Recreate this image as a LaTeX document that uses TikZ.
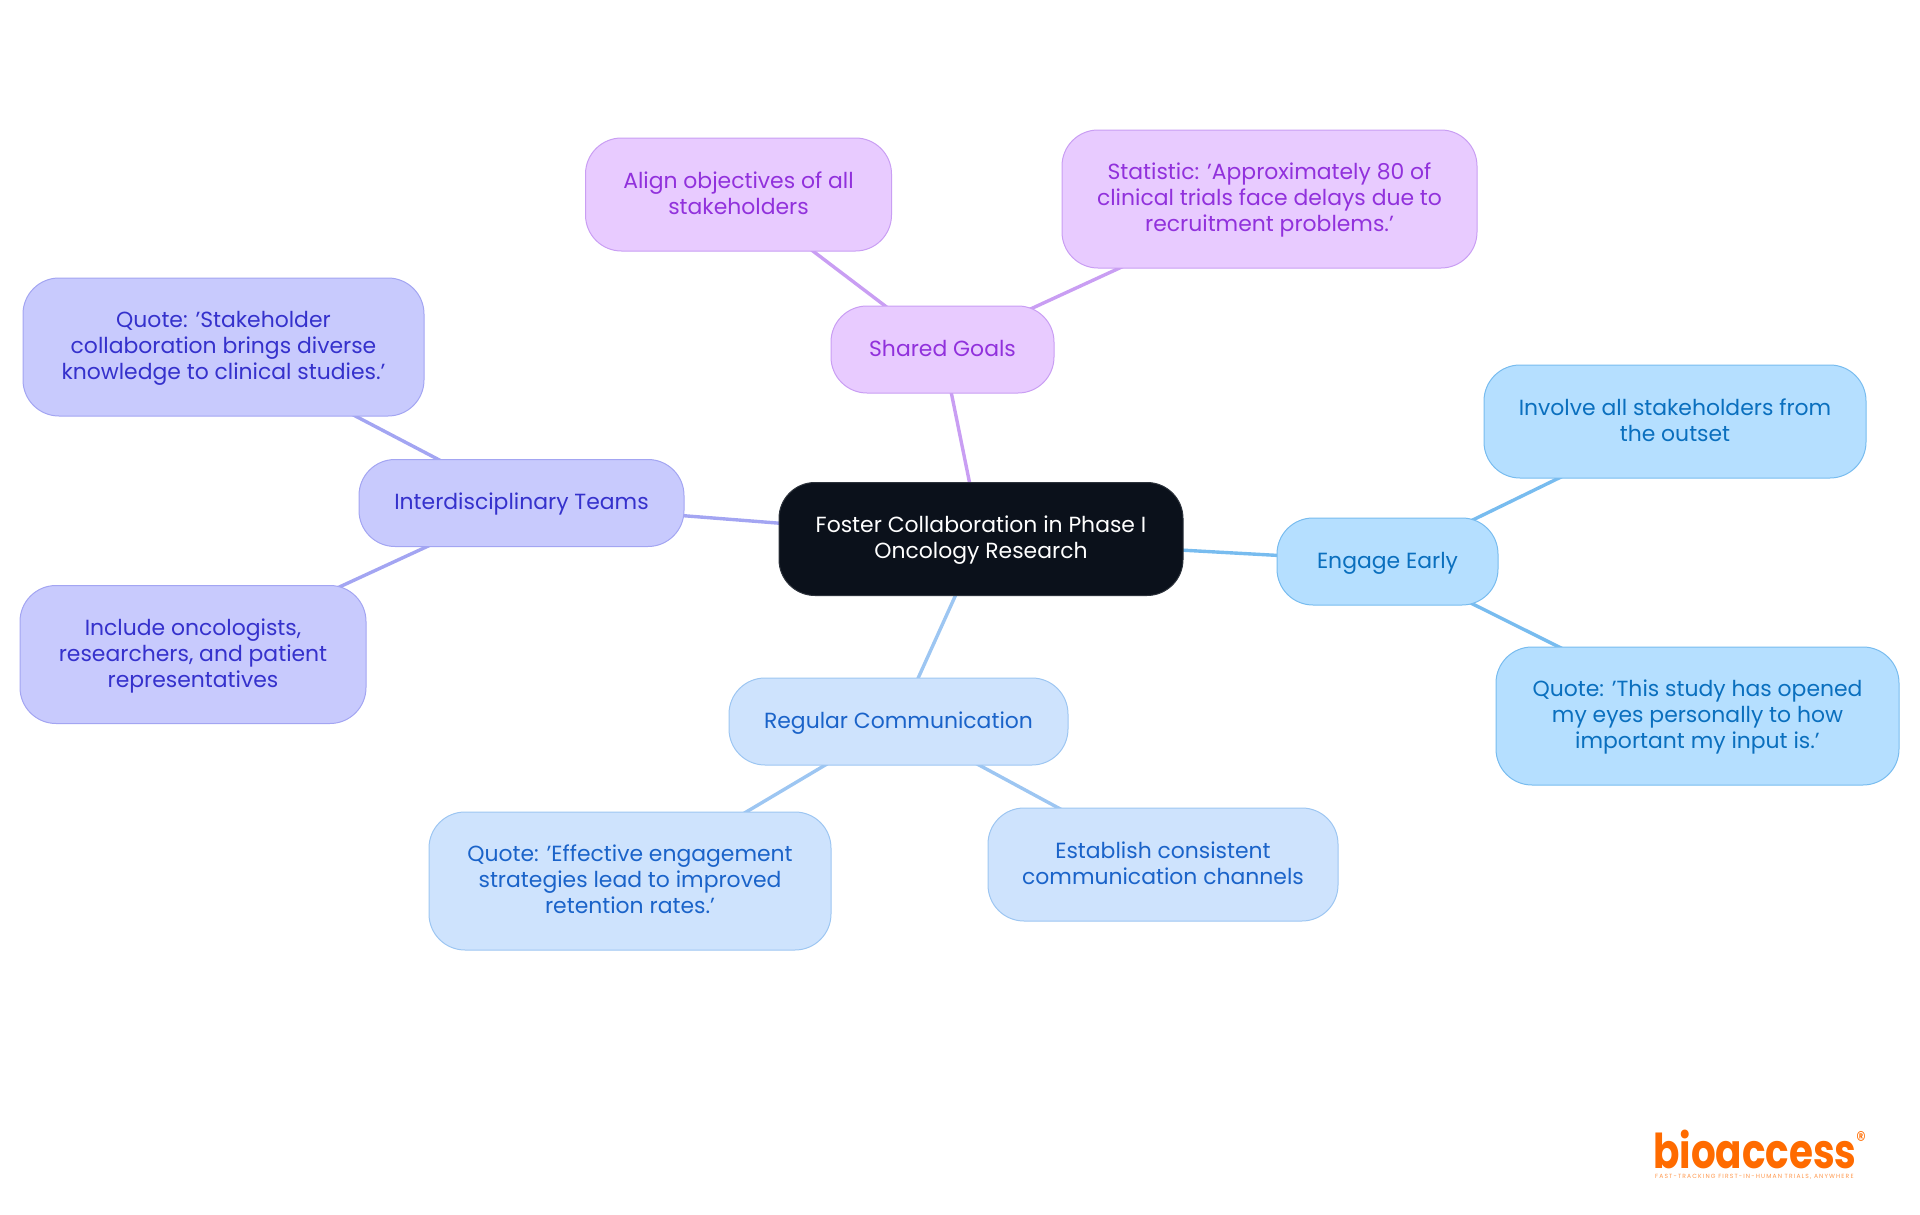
\documentclass[tikz,border=0pt]{standalone}
\usepackage{fontspec}
\setmainfont[Ligatures=ResetAll]{Poppins}
\newfontfamily\logofont[FakeStretch=0.81]{Poppins}
\newfontfamily\tagfont[LetterSpace=19]{Poppins}
\usetikzlibrary{positioning,backgrounds}
\definecolor{rootfill}{HTML}{0B111B}
\definecolor{rootline}{HTML}{2C323B}
\definecolor{goalfill}{HTML}{E8CBFF}
\definecolor{goalline}{HTML}{C99EF3}
\definecolor{goaltext}{HTML}{9131DC}
\definecolor{teamfill}{HTML}{C8CAFD}
\definecolor{teamline}{HTML}{A3A5F2}
\definecolor{teamtext}{HTML}{3531CC}
\definecolor{earlyfill}{HTML}{B5DFFF}
\definecolor{earlyline}{HTML}{78BCEF}
\definecolor{earlytext}{HTML}{0A6FBE}
\definecolor{commfill}{HTML}{CEE3FD}
\definecolor{commline}{HTML}{9DC6F2}
\definecolor{commtext}{HTML}{1A63C9}
\definecolor{logoorange}{HTML}{FF6B00}
\tikzset{
  mapnode/.style={draw,line width=1pt,rounded corners=36pt,align=center,inner sep=0pt,text depth=3pt,
    font=\fontsize{21.9}{26}\selectfont},
  rootnode/.style={mapnode,fill=rootfill,draw=rootline,text=white},
  goalnode/.style={mapnode,fill=goalfill,draw=goalline,text=goaltext},
  teamnode/.style={mapnode,fill=teamfill,draw=teamline,text=teamtext},
  earlynode/.style={mapnode,fill=earlyfill,draw=earlyline,text=earlytext},
  commnode/.style={mapnode,fill=commfill,draw=commline,text=commtext},
  small/.style={minimum height=87pt},
  medium/.style={minimum height=113pt},
  large/.style={minimum height=138pt},
  link/.style={line width=3.4pt}
}
\begin{document}
\begin{tikzpicture}[on grid]
      \useasboundingbox (0,0) rectangle (1920pt,-1215pt);
      \node[rootnode,medium,minimum width=404pt]  (root) at (981pt,-539pt) {Foster Collaboration in Phase I\\Oncology Research};

      \node[goalnode,small,minimum width=223pt]   (goals)   [above left=189.5pt and 38.5pt of root]  {Shared Goals};
      \node[goalnode,medium,minimum width=306pt]  (align)   [above left=155pt and 204pt of goals]    {Align objectives of all\\stakeholders};
      \node[goalnode,large,minimum width=415pt]   (stat)    [above right=150.5pt and 327pt of goals] {Statistic: 'Approximately 80 of\\clinical trials face delays due to\\recruitment problems.'};

      \node[teamnode,small,minimum width=325pt]   (teams)   [above left=36pt and 459.5pt of root]    {Interdisciplinary Teams};
      \node[teamnode,large,minimum width=401pt]   (diverse) [above left=156pt and 298pt of teams]    {Quote: 'Stakeholder\\collaboration brings diverse\\knowledge to clinical studies.'};
      \node[teamnode,large,minimum width=346pt]   (include) [below left=151.5pt and 328.5pt of teams] {Include oncologists,\\researchers, and patient\\representatives};

      \node[earlynode,small,minimum width=221pt]  (early)   [below right=22.5pt and 406.5pt of root] {Engage Early};
      \node[earlynode,medium,minimum width=382pt] (involve) [above right=140pt and 287.5pt of early] {Involve all stakeholders from\\the outset};
      \node[earlynode,large,minimum width=403pt]  (input)   [below right=154.5pt and 310pt of early] {Quote: 'This study has opened\\my eyes personally to how\\important my input is.'};

      \node[commnode,small,minimum width=339pt]   (comm)    [below left=182.5pt and 82.5pt of root]  {Regular Communication};
      \node[commnode,large,minimum width=402pt]   (retain)  [below left=159.5pt and 268.5pt of comm] {Quote: 'Effective engagement\\strategies lead to improved\\retention rates.'};
      \node[commnode,medium,minimum width=350pt]  (channel) [below right=143pt and 264.5pt of comm] {Establish consistent\\communication channels};

      \begin{pgfonlayer}{background}
        \path[link,goalline]  (root.center) edge (goals.center)
                              (goals.center) edge (align.center)
                              (goals.center) edge (stat.center);
        \path[link,teamline]  (root.center) edge (teams.center)
                              (teams.center) edge (diverse.center)
                              (teams.center) edge (include.center);
        \path[link,earlyline] (root.center) edge (early.center)
                              (early.center) edge (involve.center)
                              (early.center) edge (input.center);
        \path[link,commline]  (root.center) edge (comm.center)
                              (comm.center) edge (retain.center)
                              (comm.center) edge (channel.center);
      \end{pgfonlayer}

      \node[text=logoorange,inner sep=0pt,anchor=base west,font={\logofont\bfseries\fontsize{48}{48}\selectfont}] (logo) at (1653pt,-1168pt) {bioaccess};
      \node[text=logoorange,inner sep=0pt,font={\logofont\fontsize{24}{24}\selectfont}] (reg) at (1861pt,-1140pt) {®};
      \node[text=logoorange!70,inner sep=0pt,anchor=north west,font={\tagfont\fontsize{6}{6}\selectfont}] (tagline) at (1655pt,-1174pt) {FAST-TRACKING FIRST-IN-HUMAN TRIALS, ANYWHERE};
    \end{tikzpicture}
\end{document}
